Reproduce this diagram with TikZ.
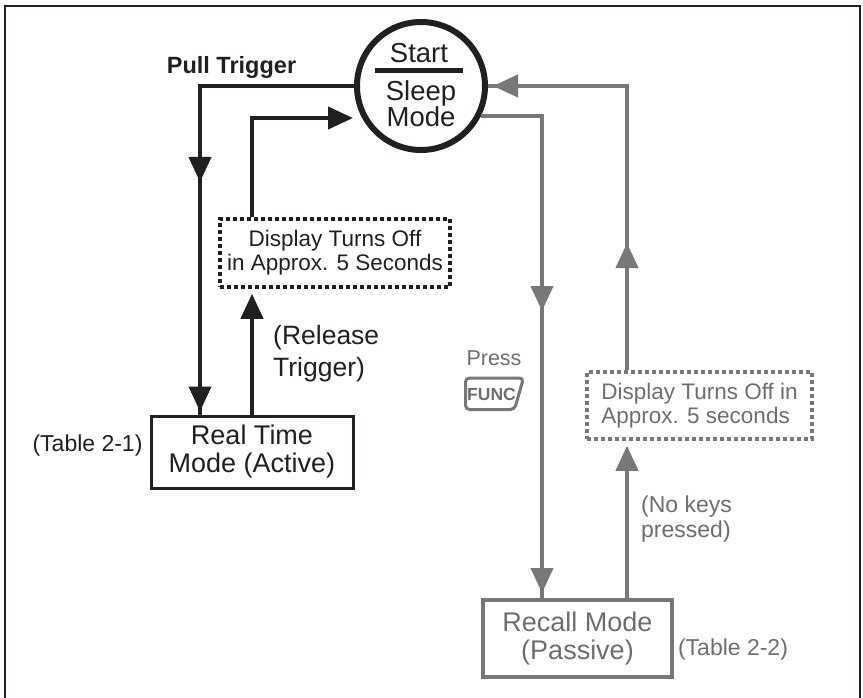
\documentclass[tikz,border=0pt]{standalone}
\usepackage{fontspec}
\setmainfont{Liberation Sans}
\usetikzlibrary{arrows.meta,calc}
\definecolor{ink}{HTML}{231F20}
\definecolor{gline}{HTML}{77787B}
\definecolor{gtext}{HTML}{6D6E71}
\newcommand{\fsz}[2]{\fontsize{#1}{#2}\selectfont}
\tikzset{
  tip/.style={-{Triangle[length=25pt,width=22pt]}},
  blk/.style={draw=ink, line width=4pt},
  gry/.style={draw=gline, line width=4pt},
  boxnode/.style={rectangle, inner sep=0pt, align=center},
  dotbox/.style={line width=3.5pt, dash pattern=on 4pt off 3pt},
}
\begin{document}
\begin{tikzpicture}[x=1pt,y=-1pt]
\useasboundingbox (0,0) rectangle (863,698);
% frame
\draw[ink, line width=2.5pt] (5,702) -- (5,6) -- (860,6) -- (860,702);

% sleep circle
\node[circle, draw=ink, line width=6pt, minimum size=128pt, inner sep=0pt] (sleep) at (421,86) {};
\node[anchor=base, font=\fsz{27.5}{27.5}, text=ink, inner sep=0pt] (startlbl) at (419,63) {Start};
\draw[ink, line width=5pt] ($(sleep.center)+(-46,-15)$) -- ($(sleep.center)+(42,-15)$);
\node[anchor=base, font=\fsz{27.5}{27.5}, text=ink, inner sep=0pt] (sleeplbl) at (421,101) {Sleep};
\node[anchor=base, font=\fsz{27.5}{27.5}, text=ink, inner sep=0pt] (modelbl) at (421,127) {Mode};

% boxes
\node[boxnode, draw=ink, line width=3pt, minimum width=202pt, minimum height=72pt,
      font=\fsz{27}{28}, text=ink] (rt) at (252,452) {Real Time\\Mode (Active)};
\node[boxnode, draw=ink, dotbox, minimum width=230pt, minimum height=68pt,
      font=\fsz{22.5}{24}, text=ink] (d1) at (335,253) {Display Turns Off\\in Approx. 5 Seconds};
\node[boxnode, draw=gline, line width=4pt, minimum width=189pt, minimum height=77pt,
      font=\fsz{27}{28}, text=gtext] (rc) at (577.5,638.5) {Recall Mode\\(Passive)};
\node[boxnode, draw=gline, dotbox, minimum width=225pt, minimum height=67pt, align=left,
      font=\fsz{22.5}{24}, text=gtext] (d2) at (699.5,405.5) {Display Turns Off in\\Approx. 5 seconds};

% labels
\node[anchor=base, font=\bfseries\fsz{23.5}{23.5}, text=ink, inner sep=0pt] (pull) at (231.5,74) {Pull Trigger};
\node[anchor=base, font=\fsz{23}{23}, text=ink, inner sep=0pt] (tab1) at (87.5,451) {(Table 2-1)};
\node[anchor=base, font=\fsz{23}{23}, text=gtext, inner sep=0pt] (tab2) at (733,655) {(Table 2-2)};
\node[anchor=west, align=left, font=\fsz{26.5}{32}, text=ink, inner sep=0pt] (rel) at (273,354) {(Release\\Trigger)};
\node[anchor=west, align=left, font=\fsz{23}{25}, text=gtext, inner sep=0pt] (nokeys) at (641,518.6) {(No keys\\pressed)};
\node[anchor=base, font=\fsz{21.5}{21.5}, text=gtext, inner sep=0pt] (press) at (494,365) {Press};
\node[font=\bfseries\fsz{17.5}{17.5}, text=gtext, inner sep=0pt] (func) at (491.5,394) {FUNC};
\draw[draw=gline, line width=3pt, rounded corners=4pt]
  ($(func)+(-26,-16)$) -- ($(func)+(32,-16)$) -- ($(func)+(23,15.5)$)
  -- ($(func)+(-26,15.5)$) -- cycle;

% black connectors
\coordinate (pta) at (200,182);
\draw[blk] (sleep.west) -| (pta |- rt.north);
\draw[blk, tip] (sleep.west) -| (pta);
\draw[blk, tip, shorten >=3pt] (pta) -- (pta |- rt.north);
\coordinate (ra) at (353,118);
\draw[blk, tip] (rt.north |- d1.north) |- (ra);
\draw[blk, tip, shorten >=5pt] (rt.north) -- (rt.north |- d1.south);

% gray connectors
\coordinate (gm) at (542,311);
\draw[gry] (sleep.-27) -| (gm |- rc.north);
\draw[gry, tip] (sleep.-27) -| (gm);
\draw[gry, tip, shorten >=5pt] (gm) -- (gm |- rc.north);
\coordinate (gu) at (627,243);
\draw[gry, tip, shorten >=5pt] (gu |- rc.north) -- (gu |- d2.south);
\draw[gry] (gu |- d2.north) |- (sleep.east);
\draw[gry, tip] (gu |- d2.north) -- (gu);
\draw[gry, tip, shorten >=5pt] (gu) |- (sleep.east);
\end{tikzpicture}
\end{document}
